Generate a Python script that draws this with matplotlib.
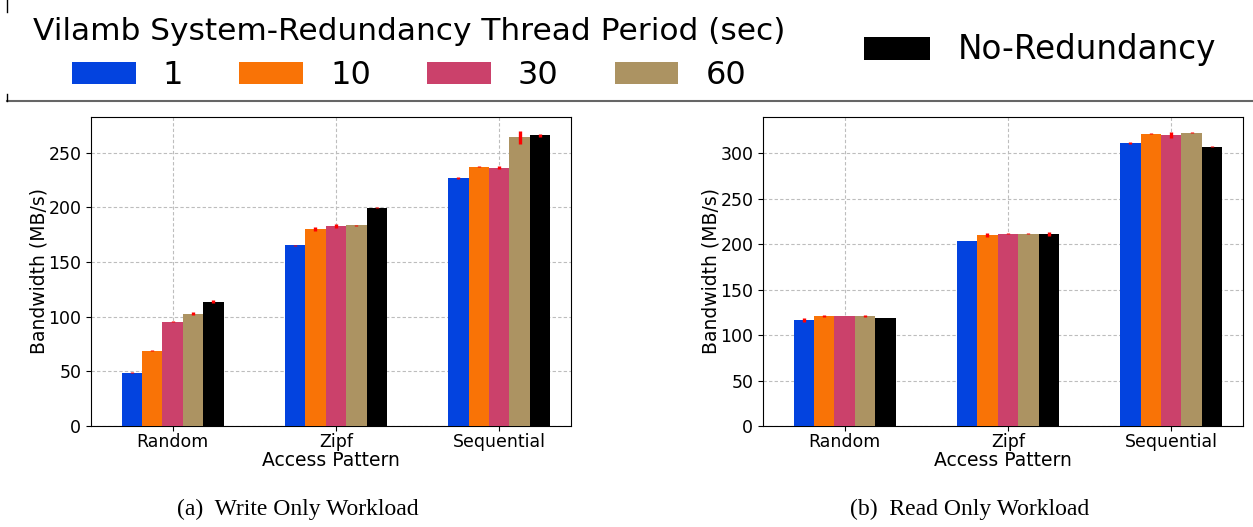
import numpy as np
import matplotlib
matplotlib.use('Agg')
import matplotlib.pyplot as plt
from matplotlib.lines import Line2D

patterns = ['Random', 'Zipf', 'Sequential']
series = ['1', '10', '30', '60', 'No-Redundancy']
colors = ['#0343df', '#f97306', '#cb416b', '#ac9362', '#000000']

# write only workload (MB/s), rows = series, cols = patterns
write_bw = [[48.5, 165.3, 227.0],
            [68.7, 180.1, 237.1],
            [95.4, 182.8, 236.2],
            [102.8, 183.7, 263.8],
            [113.8, 199.4, 265.6]]
write_err = [[0.5, 0.5, 0.8],
             [0.5, 1.5, 0.5],
             [0.3, 1.5, 1.5],
             [1.3, 0.5, 6.1],
             [1.5, 0.5, 1.5]]

# read only workload (MB/s)
read_bw = [[116.5, 203.7, 311.0],
           [121.0, 210.3, 321.7],
           [121.0, 211.4, 320.6],
           [121.0, 211.4, 322.8],
           [118.8, 211.4, 307.4]]
read_err = [[1.8, 0.3, 1.1],
            [1.5, 2.2, 0.5],
            [0.3, 0.5, 3.3],
            [1.5, 0.5, 0.5],
            [0.5, 2.2, 0.5]]

W, H = 1253, 527
fig = plt.figure(figsize=(W / 100, H / 100), dpi=100)

ax1 = fig.add_axes([91 / W, 1 - 426 / H, 480 / W, 309 / H])
ax2 = fig.add_axes([763 / W, 1 - 426 / H, 480 / W, 309 / H])

bar_w = 0.125
x = np.arange(len(patterns))


def draw(ax, vals, errs, top, yticks):
    handles = []
    for i in range(len(series)):
        b = ax.bar(x + (i - 2) * bar_w, vals[i], bar_w, color=colors[i],
                   yerr=errs[i], ecolor='red', error_kw={'elinewidth': 2.4, 'capsize': 0},
                   zorder=3)
        handles.append(b)
    ax.set_xlim(-0.5, 2.44)
    ax.set_ylim(0, top)
    ax.set_yticks(yticks)
    ax.set_xticks(x)
    ax.set_xticklabels(patterns, fontsize=12.5)
    ax.tick_params(axis='x', pad=1.5)
    ax.tick_params(axis='y', labelsize=12.5)
    ax.set_ylabel('Bandwidth (MB/s)', fontsize=13.5, labelpad=0)
    ax.set_xlabel('Access Pattern', fontsize=13.5, labelpad=0)
    ax.grid(True, ls=(0, (3, 2)), color='#bdbdbd', lw=0.8, zorder=0)
    ax.set_axisbelow(True)
    return handles


h = draw(ax1, write_bw, write_err, 282.5, range(0, 251, 50))
draw(ax2, read_bw, read_err, 340, range(0, 301, 50))

fig.text(298 / W, 1 - 509 / H, '(a)  Write Only Workload', ha='center', va='center',
         fontsize=17, family='Liberation Serif')
fig.text(970 / W, 1 - 509 / H, '(b)  Read Only Workload', ha='center', va='center',
         fontsize=17, family='Liberation Serif')

# legends
leg1 = fig.legend(h[:4], series[:4], ncol=4, loc='center',
                  bbox_to_anchor=(409 / W, 1 - 54 / H), frameon=False,
                  fontsize=23, title='Vilamb System-Redundancy Thread Period (sec)',
                  title_fontsize=22.5, columnspacing=1.75, handletextpad=0.85,
                  borderpad=0, labelspacing=0.45)
leg2 = fig.legend(h[4:], series[4:], loc='center', bbox_to_anchor=(1040 / W, 1 - 50 / H),
                  frameon=False, fontsize=23.5, handletextpad=0.85, borderpad=0)
for leg in (leg1, leg2):
    for p in leg.get_patches():
        p.set_edgecolor('none')

# clipped frame of the legend box
fig.add_artist(Line2D([7 / W, 1], [1 - 101 / H, 1 - 101 / H], color='#666666', lw=1.5))
fig.add_artist(Line2D([7 / W, 7 / W], [1, 1 - 12 / H], color='black', lw=1))
fig.add_artist(Line2D([7 / W, 7 / W], [1 - 94 / H, 1 - 101 / H], color='black', lw=1))

fig.savefig('out.png', dpi=100)
